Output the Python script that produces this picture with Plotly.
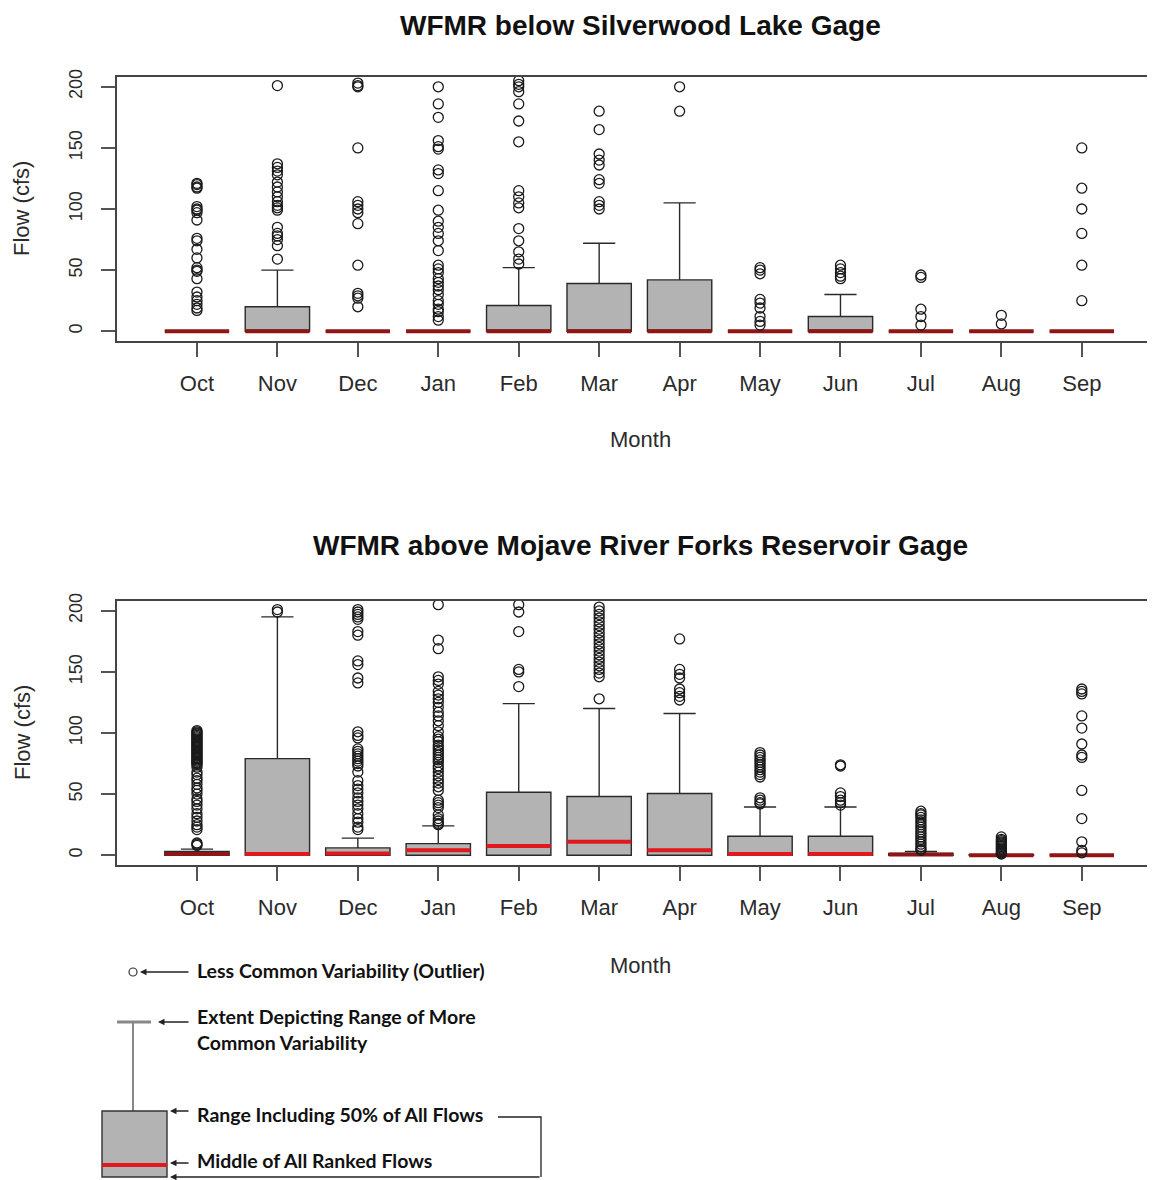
import plotly.graph_objects as go

# page body has an 8px default margin; figure is sized so it fills the 1155x1180 window
OFF = 8
W, H = 1155 - OFF, 1180 - OFF

months = ["Oct", "Nov", "Dec", "Jan", "Feb", "Mar", "Apr", "May", "Jun", "Jul", "Aug", "Sep"]
y_ticks = [0, 50, 100, 150, 200]

# ---- WFMR below Silverwood Lake Gage ----
silver_title = "WFMR below Silverwood Lake Gage"
silver_q1 = [0, 0, 0, 0, 0, 0, 0, 0, 0, 0, 0, 0]
silver_med = [0, 0, 0, 0, 0, 0, 0, 0, 0, 0, 0, 0]
silver_q3 = [0, 20, 0, 0, 21, 39, 42, 0, 12, 0, 0, 0]
silver_lo = [0, 0, 0, 0, 0, 0, 0, 0, 0, 0, 0, 0]
silver_hi = [0, 50, 0, 0, 52, 72, 105, 0, 30, 0, 0, 0]
silver_out = [
    [121, 120, 118, 117, 102, 100, 99, 97, 91, 76, 74, 67, 60, 52, 50, 49, 43, 32, 28, 25, 22, 19, 17],
    [201, 137, 134, 131, 128, 122, 118, 114, 110, 106, 103, 101, 99, 85, 80, 78, 75, 70, 59],
    [203, 201, 200, 150, 106, 103, 100, 97, 88, 54, 31, 29, 27, 20],
    [200, 186, 175, 156, 151, 149, 132, 129, 115, 99, 90, 85, 80, 74, 66, 54, 51, 48, 43, 40, 37, 34,
     30, 25, 22, 18, 16, 12, 9],
    [205, 202, 200, 196, 186, 172, 155, 115, 110, 105, 101, 84, 74, 65, 59, 55],
    [180, 165, 145, 140, 136, 124, 121, 106, 103, 100],
    [200, 180],
    [52, 50, 47, 26, 23, 19, 12, 8, 5],
    [54, 51, 48, 45, 43],
    [46, 44, 18, 12, 5],
    [13, 6],
    [150, 117, 100, 80, 54, 25],
]

# ---- WFMR above Mojave River Forks Reservoir Gage ----
mojave_title = "WFMR above Mojave River Forks Reservoir Gage"
mojave_q1 = [0, 0, 0, 0, 0, 0, 0, 0, 0, 0, 0, 0]
mojave_med = [1, 1, 1.5, 4, 7.5, 11, 4, 1, 1, 0.5, 0, 0]
mojave_q3 = [3, 79, 6, 9.5, 51.5, 48, 50.5, 15.5, 15.5, 1.5, 0.5, 0]
mojave_lo = [0, 0, 0, 0, 0, 0, 0, 0, 0, 0, 0, 0]
mojave_hi = [5, 195, 14, 24, 124, 120, 116, 39.5, 39.5, 3, 0.5, 0]
mojave_out = [
    [102, 101, 100, 99, 98, 97, 96, 95, 94, 93, 92, 91, 90, 89, 88, 87, 86, 85, 84, 83, 82, 81, 80, 79,
     78, 77, 76, 75, 74, 72, 68, 66, 63, 61, 58, 55, 53, 50, 46, 44, 41, 38, 34, 31, 28, 25, 23, 21, 10, 9, 8],
    [201, 199],
    [201, 199, 197, 195, 193, 183, 180, 159, 156, 145, 141, 101, 98, 96, 87, 85, 83, 81, 79, 77, 75, 73,
     68, 61, 57, 54, 51, 47, 44, 41, 38, 34, 30, 27, 23, 21],
    [205, 176, 169, 146, 143, 140, 134, 131, 128, 125, 121, 117, 114, 110, 106, 101, 97, 95, 93, 90, 88,
     86, 84, 82, 80, 78, 76, 73, 71, 68, 65, 62, 59, 56, 53, 45, 43, 41, 39, 33, 30, 28, 26, 25],
    [205, 199, 183, 152, 150, 138],
    [203, 200, 197, 194, 191, 188, 185, 182, 179, 176, 173, 170, 167, 164, 161, 158, 155, 152, 149, 146, 128],
    [177, 152, 148, 145, 136, 133, 130, 127],
    [84, 82, 80, 78, 76, 74, 72, 70, 68, 66, 64, 47, 45, 43, 42],
    [74, 73, 51, 48, 45, 43, 41],
    [36, 34, 33, 31, 29, 27, 25, 23, 21, 19, 17, 15, 13, 11, 9, 7, 5, 4],
    [15, 13, 12, 11, 10, 9, 8, 7, 6, 5, 4, 3, 2, 1.5, 1],
    [136, 134, 132, 114, 104, 91, 82, 80, 53, 30, 11, 4, 2],
]

legend_texts = [
    "Less Common Variability (Outlier)",
    "Extent Depicting Range of More",
    "Common Variability",
    "Range Including 50% of All Flows",
    "Middle of All Ranked Flows",
]

# ---------------- styling ----------------
BOX_FILL = "#B3B3B3"
BOX_LINE = "#2a2a2a"
RED = "#E0191E"
DARK_RED = "#8E1616"
FRAME = "#444444"
FONT = "Liberation Sans, Arial, sans-serif"
LFONT = "Lato, Open Sans, sans-serif"
pos = list(range(1, len(months) + 1))


def px(x):
    return (x - OFF) / W


def py(y):
    return 1 - (y - OFF) / H


fig = go.Figure()


def add_panel(q1, med, q3, lo, hi, outs, xa, ya):
    fig.add_trace(go.Box(
        x=pos, q1=q1, median=med, q3=q3, lowerfence=lo, upperfence=hi,
        boxpoints=False, width=0.8, whiskerwidth=0.5,
        fillcolor=BOX_FILL, line=dict(color=BOX_LINE, width=1.4),
        xaxis=xa, yaxis=ya, showlegend=False, hoverinfo="skip",
    ))
    # medians
    for dark in (True, False):
        xs, ys = [], []
        for p, a, m, c in zip(pos, q1, med, q3):
            is_dark = (m - a) < 0.5 or (c - a) < 4
            if is_dark == dark:
                xs += [p - 0.4, p + 0.4, None]
                ys += [m, m, None]
        if xs:
            fig.add_trace(go.Scatter(
                x=xs, y=ys, mode="lines",
                line=dict(color=DARK_RED if dark else RED, width=4),
                xaxis=xa, yaxis=ya, showlegend=False, hoverinfo="skip",
            ))
    ox, oy = [], []
    for p, vals in zip(pos, outs):
        ox += [p] * len(vals)
        oy += vals
    fig.add_trace(go.Scatter(
        x=ox, y=oy, mode="markers",
        marker=dict(symbol="circle-open", size=10, color="#1a1a1a", line=dict(width=1.3)),
        xaxis=xa, yaxis=ya, showlegend=False, hoverinfo="skip",
    ))


add_panel(silver_q1, silver_med, silver_q3, silver_lo, silver_hi, silver_out, "x", "y")
add_panel(mojave_q1, mojave_med, mojave_q3, mojave_lo, mojave_hi, mojave_out, "x2", "y2")

x_common = dict(
    range=[0.006, 12.91], tickvals=pos, ticktext=months, ticks="outside", ticklen=14,
    tickwidth=1.5, tickcolor="#555", showline=True, mirror=True, linecolor=FRAME, linewidth=1.5,
    showgrid=False, zeroline=False, tickfont=dict(family=FONT, size=22, color="#2b2b2b"),
    automargin=False, ticklabelstandoff=8, domain=[px(117), 1.0],
)
y_common = dict(
    range=[-8, 208], tickvals=y_ticks, ticks="outside", ticklen=14, tickwidth=1.5,
    tickcolor="#555", showline=True, mirror=False, linecolor=FRAME, linewidth=1.5,
    showgrid=False, zeroline=False, tickangle=-90,
    tickfont=dict(family=FONT, size=18, color="#2b2b2b"), automargin=False, ticklabelstandoff=12,
)

fig.update_layout(
    width=W, height=H, margin=dict(l=0, r=0, t=0, b=0),
    paper_bgcolor="white", plot_bgcolor="white", template="none", showlegend=False,
    xaxis=dict(x_common, anchor="y"),
    yaxis=dict(y_common, anchor="x", domain=[py(341), py(77)]),
    xaxis2=dict(x_common, anchor="y2"),
    yaxis2=dict(y_common, anchor="x2", domain=[py(865), py(601)]),
)

ann = []
tfont = dict(family=FONT, size=28, color="#111")
afont = dict(family=FONT, size=22, color="#2b2b2b")
ann.append(dict(text="<b>" + silver_title + "</b>", x=px(640), y=1.0, yanchor="top", font=tfont))
ann.append(dict(text="<b>" + mojave_title + "</b>", x=px(640), y=py(545), font=tfont))
for yy in (440, 965):
    ann.append(dict(text="Month", x=px(640), y=py(yy), font=afont))
for yy in (209, 733):
    ann.append(dict(text="Flow (cfs)", x=px(22), y=py(yy), font=afont, textangle=-90))

lfont = dict(family=LFONT, size=19.5, color="#111")
for t, yy in zip(legend_texts, [970, 1016, 1042, 1114, 1160]):
    ann.append(dict(text="<b>" + t + "</b>", x=px(195), y=py(yy), xanchor="left", font=lfont))

# legend arrows (head x, tail x, y)
for hx, tx, yy in [(140, 190, 972), (158, 190, 1022), (170, 190, 1111), (170, 190, 1163), (170, 541, 1177)]:
    ann.append(dict(text="", x=px(hx), y=py(yy), ax=tx - hx, ay=0, showarrow=True,
                    arrowhead=2, arrowsize=1, arrowwidth=1.3, arrowcolor="#222"))

for a in ann:
    a.setdefault("xref", "paper")
    a.setdefault("yref", "paper")
    a.setdefault("showarrow", False)
    if not a["showarrow"]:
        a.setdefault("xanchor", "center")
        a.setdefault("yanchor", "middle")
fig.update_layout(annotations=ann)

shapes = []
# outlier key circle
shapes.append(dict(type="circle", x0=px(129), x1=px(137), y0=py(976), y1=py(968),
                   line=dict(color="#333", width=1.2)))
# whisker + cap
shapes.append(dict(type="line", x0=px(133), x1=px(133), y0=py(1022), y1=py(1111),
                   line=dict(color="#555", width=1.4)))
shapes.append(dict(type="line", x0=px(117), x1=px(151), y0=py(1022), y1=py(1022),
                   line=dict(color="#888", width=3)))
# box
shapes.append(dict(type="rect", x0=px(102), x1=px(167), y0=py(1177), y1=py(1111),
                   fillcolor=BOX_FILL, line=dict(color="#333", width=1.4)))
shapes.append(dict(type="line", x0=px(102), x1=px(167), y0=py(1165), y1=py(1165),
                   line=dict(color=RED, width=4)))
# connector path
shapes.append(dict(type="path",
                   path="M %f,%f L %f,%f L %f,%f" % (px(498), py(1117), px(541), py(1117), px(541), py(1177)),
                   line=dict(color="#222", width=1.3)))
for s in shapes:
    s["xref"] = "paper"
    s["yref"] = "paper"
fig.update_layout(shapes=shapes)

fig.write_html("out.html")
